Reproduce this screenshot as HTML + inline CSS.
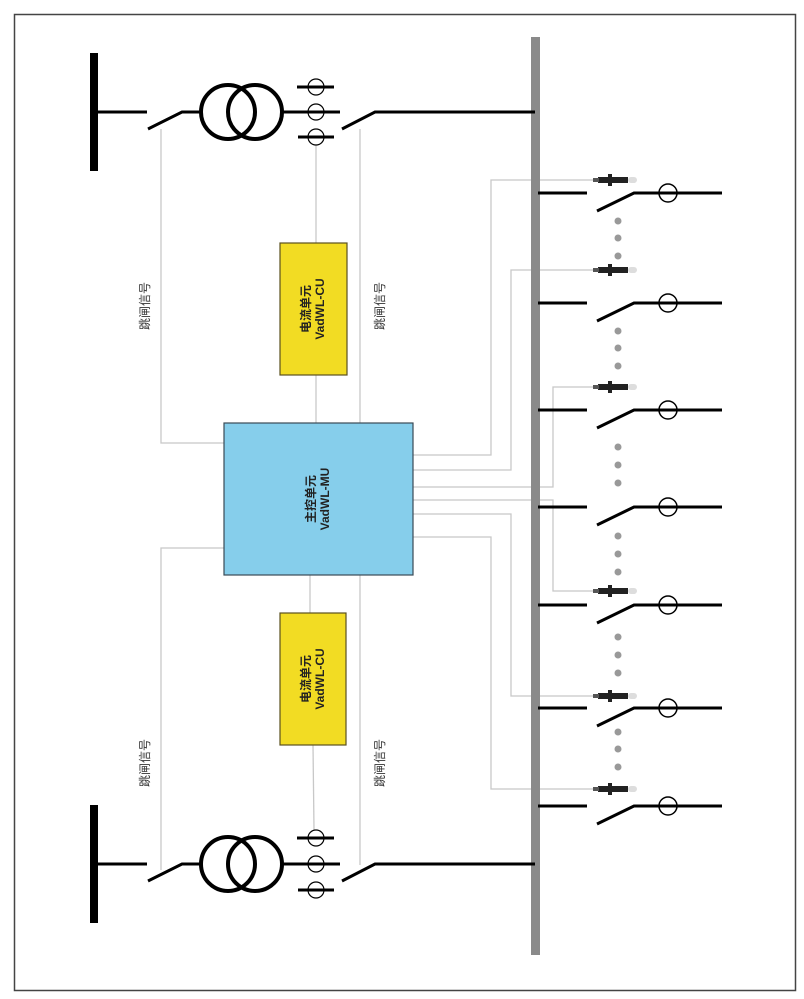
<!DOCTYPE html>
<html><head><meta charset="utf-8"><style>
html,body{margin:0;padding:0;background:#fff;}
svg{display:block;}
text{font-family:"Liberation Sans","Noto Sans CJK SC",sans-serif;}
</style></head><body>
<svg width="804" height="999" viewBox="0 0 804 999" xmlns="http://www.w3.org/2000/svg">
<rect x="14.5" y="14.5" width="781" height="976" fill="#fff" stroke="#444" stroke-width="1.5"/>

<!-- gray signal lines -->
<g stroke="#c8c8c8" stroke-width="1.3" fill="none">
  <polyline points="161,129 161,443 224,443"/>
  <line x1="316" y1="145" x2="316" y2="243"/>
  <line x1="316" y1="375" x2="316" y2="423"/>
  <line x1="360" y1="129" x2="360" y2="423"/>
  <polyline points="224,548 161,548 161,870"/>
  <line x1="310" y1="575" x2="310" y2="613"/>
  <line x1="313" y1="745" x2="314" y2="830"/>
  <line x1="360" y1="575" x2="360" y2="865"/>
  <polyline points="413,455 491,455 491,180 595,180"/>
  <polyline points="413,470 511,470 511,270 595,270"/>
  <polyline points="413,487 553,487 553,387 595,387"/>
  <polyline points="413,500 553,500 553,591 595,591"/>
  <polyline points="413,514 511,514 511,696 595,696"/>
  <polyline points="413,537 491,537 491,789 595,789"/>
</g>

<!-- bus -->
<rect x="531" y="37" width="9" height="918" fill="#8a8a8a"/>

<!-- top circuit -->
<g stroke="#000" fill="none" stroke-linecap="butt">
  <rect x="90" y="53" width="8" height="118" fill="#000" stroke="none"/>
  <line x1="97" y1="112" x2="147" y2="112" stroke-width="3"/>
  <polyline points="148,129 182,112 200,112" stroke-width="3"/>
  <circle cx="228" cy="112" r="27" stroke-width="4"/>
  <circle cx="255" cy="112" r="27" stroke-width="4"/>
  <line x1="282" y1="112" x2="340" y2="112" stroke-width="3"/>
  <circle cx="316" cy="87" r="8" stroke-width="1.2"/>
  <circle cx="316" cy="112" r="8" stroke-width="1.2"/>
  <circle cx="316" cy="137" r="8" stroke-width="1.2"/>
  <line x1="297" y1="87" x2="334" y2="87" stroke-width="3"/>
  <line x1="298" y1="137" x2="334" y2="137" stroke-width="3"/>
  <polyline points="342,129 375,112 535,112" stroke-width="3"/>
</g>
<!-- bottom circuit -->
<g stroke="#000" fill="none">
  <rect x="90" y="805" width="8" height="118" fill="#000" stroke="none"/>
  <line x1="97" y1="864" x2="147" y2="864" stroke-width="3"/>
  <polyline points="148,881 182,864 200,864" stroke-width="3"/>
  <circle cx="228" cy="864" r="27" stroke-width="4"/>
  <circle cx="255" cy="864" r="27" stroke-width="4"/>
  <line x1="282" y1="864" x2="340" y2="864" stroke-width="3"/>
  <circle cx="316" cy="838" r="8" stroke-width="1.2"/>
  <circle cx="316" cy="864" r="8" stroke-width="1.2"/>
  <circle cx="316" cy="890" r="8" stroke-width="1.2"/>
  <line x1="297" y1="838" x2="334" y2="838" stroke-width="3"/>
  <line x1="298" y1="890" x2="334" y2="890" stroke-width="3"/>
  <polyline points="342,881 375,864 535,864" stroke-width="3"/>
</g>

<!-- boxes -->
<rect x="280" y="243" width="67" height="132" fill="#f2dc23" stroke="#5a5020" stroke-width="1.2"/>
<rect x="224" y="423" width="189" height="152" fill="#86ceeb" stroke="#3a4a55" stroke-width="1.2"/>
<rect x="280" y="613" width="66" height="132" fill="#f2dc23" stroke="#5a5020" stroke-width="1.2"/>

<g font-size="12" font-weight="bold" fill="#222" text-anchor="middle">
  <text transform="translate(313,309) rotate(-90)"><tspan x="0" dy="-3">电流单元</tspan><tspan x="0" dy="14">VadWL-CU</tspan></text>
  <text transform="translate(318,499) rotate(-90)"><tspan x="0" dy="-3">主控单元</tspan><tspan x="0" dy="14">VadWL-MU</tspan></text>
  <text transform="translate(313,679) rotate(-90)"><tspan x="0" dy="-3">电流单元</tspan><tspan x="0" dy="14">VadWL-CU</tspan></text>
</g>
<g font-size="12" fill="#333" text-anchor="middle">
  <text transform="translate(149,306) rotate(-90)">跳闸信号</text>
  <text transform="translate(384,306) rotate(-90)">跳闸信号</text>
  <text transform="translate(149,763) rotate(-90)">跳闸信号</text>
  <text transform="translate(384,763) rotate(-90)">跳闸信号</text>
</g>

<!-- feeders -->
<defs>
  <g id="fd" stroke="#000" fill="none">
    <line x1="538" y1="0" x2="587" y2="0" stroke-width="3"/>
    <polyline points="597,18 634,0 722,0" stroke-width="3"/>
    <circle cx="668" cy="0" r="9" fill="#fff" stroke-width="1.5"/>
    <line x1="659" y1="0" x2="677" y2="0" stroke-width="3"/>
  </g>
  <g id="cn">
    <rect x="598" y="-3" width="30" height="6" fill="#222"/>
    <rect x="593" y="-2" width="6" height="4" fill="#555"/>
    <rect x="608" y="-6" width="4" height="12" fill="#222"/>
    <rect x="628" y="-3" width="9" height="6" rx="3" fill="#ddd"/>
  </g>
</defs>
<use href="#fd" y="193"/>
<use href="#fd" y="303"/>
<use href="#fd" y="410"/>
<use href="#fd" y="507"/>
<use href="#fd" y="605"/>
<use href="#fd" y="708"/>
<use href="#fd" y="806"/>
<use href="#cn" y="180"/>
<use href="#cn" y="270"/>
<use href="#cn" y="387"/>
<use href="#cn" y="591"/>
<use href="#cn" y="696"/>
<use href="#cn" y="789"/>

<g fill="#999">
  <circle cx="618" cy="221" r="3.5"/><circle cx="618" cy="238" r="3.5"/><circle cx="618" cy="256" r="3.5"/>
  <circle cx="618" cy="331" r="3.5"/><circle cx="618" cy="348" r="3.5"/><circle cx="618" cy="366" r="3.5"/>
  <circle cx="618" cy="447" r="3.5"/><circle cx="618" cy="465" r="3.5"/><circle cx="618" cy="483" r="3.5"/>
  <circle cx="618" cy="536" r="3.5"/><circle cx="618" cy="554" r="3.5"/><circle cx="618" cy="572" r="3.5"/>
  <circle cx="618" cy="637" r="3.5"/><circle cx="618" cy="655" r="3.5"/><circle cx="618" cy="673" r="3.5"/>
  <circle cx="618" cy="732" r="3.5"/><circle cx="618" cy="749" r="3.5"/><circle cx="618" cy="767" r="3.5"/>
</g>
</svg>
</body></html>
